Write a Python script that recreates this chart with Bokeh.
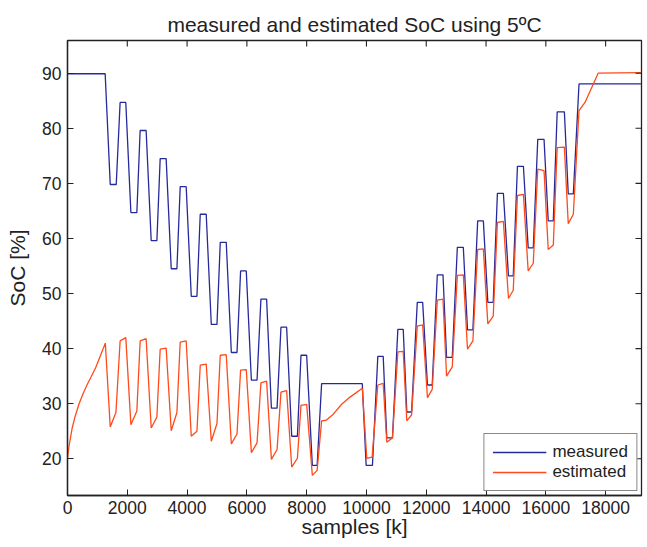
import math
from bokeh.plotting import figure
from bokeh.models import Range1d, Legend, LegendItem, FixedTicker
from bokeh.embed import file_html
from bokeh.resources import INLINE

# measured SoC (blue)
meas_x = [0, 1260, 1430, 1630, 1760, 1950, 2120, 2320, 2430, 2630, 2800, 2990, 3100, 3300,
          3470, 3660, 3770, 3970, 4140, 4330, 4440, 4640, 4810, 5000, 5110, 5310,
          5480, 5670, 5790, 5980, 6150, 6340, 6470, 6660, 6820, 7010, 7140, 7330,
          7500, 7690, 7810, 8000, 8190, 8350, 8500, 9860,
          9990, 10200, 10380, 10560, 10680, 10870, 11050, 11230, 11350, 11510, 11700, 11880,
          12040, 12200, 12370, 12560, 12680, 12870, 13040, 13240, 13380, 13560, 13720, 13910,
          14060, 14240, 14380, 14580, 14750, 14910, 15050, 15250, 15410, 15580, 15730, 15940,
          16080, 16250, 16380, 16620, 16750, 16920, 17110, 19180]
meas_y = [89.9, 89.9, 69.8, 69.8, 84.7, 84.7, 64.7, 64.7, 79.6, 79.6, 59.6, 59.6, 74.5, 74.5,
          54.5, 54.5, 69.4, 69.4, 49.5, 49.5, 64.4, 64.4, 44.4, 44.4, 59.3, 59.3,
          39.3, 39.3, 54.1, 54.1, 34.3, 34.3, 49.0, 49.0, 29.2, 29.2, 43.9, 43.9,
          24.1, 24.1, 38.8, 38.8, 18.8, 18.8, 33.65, 33.65,
          18.8, 18.8, 38.6, 38.6, 23.8, 23.8, 43.5, 43.5, 28.5, 28.5, 48.4, 48.4,
          33.4, 33.4, 53.4, 53.4, 38.4, 38.4, 58.4, 58.4, 43.4, 43.4, 63.2, 63.2,
          48.4, 48.4, 68.2, 68.2, 53.2, 53.2, 73.1, 73.1, 58.3, 58.3, 78.0, 78.0,
          63.2, 63.2, 83.0, 83.0, 68.1, 68.1, 88.05, 88.05]

# estimated SoC (orange)
est_x = [0, 60, 157, 250, 381, 520, 659, 800, 937, 1100, 1265,
         1430, 1620, 1760, 1950, 2120, 2320, 2430, 2630, 2800, 2990, 3100, 3300,
         3470, 3660, 3770, 3970, 4140, 4330, 4440, 4640, 4810, 5000, 5110, 5310,
         5480, 5670, 5790, 5980, 6150, 6340, 6470, 6660, 6820, 7010, 7140, 7330,
         7500, 7690, 7810, 8000, 8190, 8350, 8500, 8650, 8890, 9170, 9450, 9860,
         10010, 10190, 10380, 10560, 10680, 10870, 11050, 11230, 11350, 11510, 11700, 11880,
         12040, 12200, 12370, 12560, 12680, 12870, 13040, 13240, 13380, 13560, 13720, 13910,
         14060, 14240, 14380, 14580, 14750, 14910, 15050, 15250, 15410, 15580, 15730, 15940,
         16080, 16250, 16380, 16620, 16750, 16920, 17110, 17310, 17750, 19180]
est_y = [20.3, 22.6, 25.6, 27.6, 29.9, 31.8, 33.5, 35.0, 36.5, 38.7, 41.0,
         25.8, 28.4, 41.4, 42.0, 26.2, 28.7, 41.4, 41.8, 25.6, 27.6, 39.9, 40.1,
         25.1, 28.4, 41.2, 41.4, 24.1, 25.0, 37.0, 37.2, 23.2, 26.4, 38.8, 38.9,
         22.7, 24.5, 36.1, 36.2, 21.1, 22.9, 33.8, 34.1, 19.9, 21.7, 32.1, 32.4,
         18.5, 20.1, 29.7, 29.9, 17.0, 17.9, 26.9, 27.0, 28.1, 29.9, 31.2, 32.8,
         20.1, 20.3, 33.4, 33.7, 23.0, 23.8, 39.4, 39.5, 26.9, 28.0, 44.1, 44.3,
         31.1, 32.6, 48.8, 49.0, 35.0, 36.7, 53.3, 53.4, 39.9, 41.4, 58.0, 58.1,
         44.5, 45.9, 62.9, 63.1, 49.1, 50.6, 67.8, 68.0, 54.1, 55.5, 72.6, 72.3,
         58.0, 58.8, 76.5, 76.6, 62.7, 64.4, 83.2, 84.7, 90.0, 90.1]

x_ticks = [0, 2000, 4000, 6000, 8000, 10000, 12000, 14000, 16000, 18000]
y_ticks = [20, 30, 40, 50, 60, 70, 80, 90]
x_lim = (0, 19200)
y_lim = (13.34, 95.94)

FONT = "Liberation Sans"
BLUE = "#25299a"
ORANGE = "#ff4a1a"
INK = "#222222"

p = figure(width=647, height=547, output_backend="svg", toolbar_location=None,
           x_range=Range1d(*x_lim), y_range=Range1d(*y_lim),
           min_border_left=67, min_border_right=6, min_border_top=40, min_border_bottom=52,
           title="measured and estimated SoC using 5\u00baC")
p.title.align = "center"
p.title.text_font = FONT
p.title.text_font_size = "21px"
p.title.text_font_style = "normal"
p.title.text_color = INK

p.xgrid.visible = False
p.ygrid.visible = False
p.outline_line_color = INK
p.outline_line_width = 1.3
p.background_fill_color = "white"
p.border_fill_color = "white"

l1 = p.line(meas_x, meas_y, line_color=BLUE, line_width=1.3)
l2 = p.line(est_x, est_y, line_color=ORANGE, line_width=1.3)

for ax, ticks in ((p.xaxis[0], x_ticks), (p.yaxis[0], y_ticks)):
    ax.ticker = FixedTicker(ticks=ticks)
    ax.major_tick_in = 6
    ax.major_tick_out = 0
    ax.minor_tick_line_color = None
    ax.major_label_text_font = FONT
    ax.major_label_text_font_size = "17.5px"
    ax.major_label_text_color = INK
    ax.axis_label_text_font = FONT
    ax.axis_label_text_font_size = "21px"
    ax.axis_label_text_font_style = "normal"
    ax.axis_label_text_color = INK
    ax.axis_line_color = INK
    ax.axis_line_width = 1.3
    ax.major_tick_line_color = INK

p.xaxis[0].axis_label = "samples [k]"
p.yaxis[0].axis_label = "SoC [%]"
p.xaxis[0].major_label_standoff = 5
p.yaxis[0].major_label_standoff = 6
p.xaxis[0].axis_label_standoff = -2
p.yaxis[0].axis_label_standoff = 10

# mirrored inward ticks on the top and right frame edges (clipped to the frame)
p.scatter(x_ticks, [y_lim[1]] * len(x_ticks), marker="dash", size=12, angle=math.pi / 2,
          line_color=INK, line_width=1.1)
p.scatter([x_lim[1]] * len(y_ticks), y_ticks, marker="dash", size=12, angle=0,
          line_color=INK, line_width=1.1)

legend = Legend(items=[LegendItem(label="measured", renderers=[l1]),
                       LegendItem(label="estimated", renderers=[l2])],
                location="bottom_right")
legend.margin = 4
legend.padding = 8
legend.spacing = 0
legend.glyph_width = 54
legend.glyph_height = 18
legend.label_height = 18
legend.label_standoff = 6
legend.label_text_font = FONT
legend.label_text_font_size = "17px"
legend.label_text_color = INK
legend.border_line_color = "#111111"
legend.border_line_width = 1.3
legend.background_fill_alpha = 1
p.add_layout(legend, "center")

open("out.html", "w").write(file_html(p, INLINE))
